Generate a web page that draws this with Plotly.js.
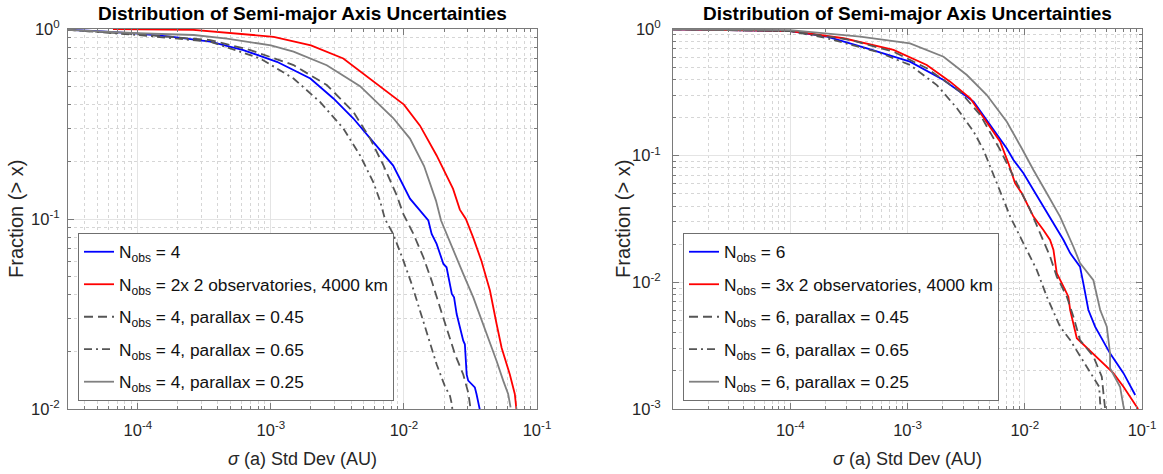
<!DOCTYPE html>
<html><head><meta charset="utf-8">
<script src="https://cdn.plot.ly/plotly-3.0.1.min.js"></script>
<style>html,body{margin:0;padding:0;background:#fff}#chart{width:1163px;height:474px}</style>
</head><body><div id="chart"></div>
<script>
// ---------- shared text ----------
const plotTitle = 'Distribution of Semi-major Axis Uncertainties';
const xTitle = '<i>σ</i> (a) Std Dev (AU)';
const yTitle = 'Fraction (> x)';
const xTickVals = [1e-4, 1e-3, 1e-2, 1e-1];
const xTickText = ['10<sup>-4</sup>', '10<sup>-3</sup>', '10<sup>-2</sup>', '10<sup>-1</sup>'];
const yTickValsL = [1e-2, 1e-1, 1];
const yTickTextL = ['10<sup>-2</sup>', '10<sup>-1</sup>', '10<sup>0</sup>'];
const yTickValsR = [1e-3, 1e-2, 1e-1, 1];
const yTickTextR = ['10<sup>-3</sup>', '10<sup>-2</sup>', '10<sup>-1</sup>', '10<sup>0</sup>'];

// ---------- left panel (N_obs = 4) ----------
const namesL = ['N<sub>obs</sub> = 4', 'N<sub>obs</sub> = 2x 2 observatories, 4000 km',
  'N<sub>obs</sub> = 4, parallax = 0.45', 'N<sub>obs</sub> = 4, parallax = 0.65', 'N<sub>obs</sub> = 4, parallax = 0.25'];

const L_blue_x = [3.0e-5, 5e-5, 1e-4, 1.76e-4, 3.5e-4, 6.2e-4, 1.11e-3, 1.98e-3, 2.95e-3, 4.17e-3, 5.89e-3, 8.3e-3, 0.0111, 0.0140, 0.01525, 0.01615, 0.0176, 0.0198, 0.0209, 0.0229, 0.0238, 0.0249, 0.0256, 0.0279, 0.0287, 0.0296, 0.0304, 0.0341, 0.0351, 0.0373];
const L_blue_y = [0.99, 0.975, 0.945, 0.911, 0.857, 0.775, 0.672, 0.549, 0.431, 0.338, 0.254, 0.191, 0.128, 0.1065, 0.0982, 0.0835, 0.074, 0.058, 0.0557, 0.0403, 0.0387, 0.0316, 0.0291, 0.0229, 0.0219, 0.0152, 0.0141, 0.0130, 0.0120, 0.0098];

const L_red_x = [6.5e-5, 2.6e-4, 1.05e-3, 2.0e-3, 3.5e-3, 6.3e-3, 0.0100, 0.0132, 0.0176, 0.0234, 0.0263, 0.0292, 0.0331, 0.0383, 0.0443, 0.0497, 0.0542, 0.0625, 0.0681, 0.0702];
const L_red_y = [1.0, 0.99, 0.91, 0.82, 0.70, 0.51, 0.40, 0.31, 0.216, 0.144, 0.112, 0.100, 0.080, 0.060, 0.042, 0.028, 0.021, 0.0152, 0.012, 0.0098];

const L_dash_x = [2.95e-5, 1e-4, 3.5e-4, 7.0e-4, 1.48e-3, 2.63e-3, 4.17e-3, 5.57e-3, 7.0e-3, 8.83e-3, 9.9e-3, 0.01178, 0.0140, 0.01614, 0.01866, 0.0215, 0.0242, 0.0279, 0.0304, 0.0317];
const L_dash_y = [0.99, 0.937, 0.875, 0.775, 0.646, 0.507, 0.366, 0.265, 0.192, 0.133, 0.106, 0.0835, 0.0629, 0.0474, 0.0342, 0.0248, 0.0194, 0.0152, 0.0122, 0.0100];

const L_dd_x = [2.95e-5, 1e-4, 3.5e-4, 8.3e-4, 1.48e-3, 2.34e-3, 3.51e-3, 4.68e-3, 5.89e-3, 6.6e-3, 7.2e-3, 8.3e-3, 9.9e-3, 0.01143, 0.0132, 0.01525, 0.0176, 0.0203, 0.0222, 0.0229, 0.0231];
const L_dd_y = [0.99, 0.93, 0.857, 0.70, 0.549, 0.413, 0.299, 0.216, 0.156, 0.125, 0.100, 0.0835, 0.0604, 0.0455, 0.0329, 0.0238, 0.0172, 0.0132, 0.0117, 0.0106, 0.0100];

const L_gray_x = [2.95e-5, 1e-4, 2.63e-4, 4.68e-4, 1e-3, 1.48e-3, 2.63e-3, 4.68e-3, 8.3e-3, 0.0111, 0.01416, 0.0174, 0.0190, 0.0235, 0.0279, 0.0332, 0.0394, 0.0443, 0.0497, 0.0557, 0.0607, 0.0633];
const L_gray_y = [0.99, 0.95, 0.93, 0.89, 0.82, 0.76, 0.645, 0.50, 0.34, 0.265, 0.19, 0.125, 0.0982, 0.0682, 0.0514, 0.0387, 0.028, 0.0219, 0.0179, 0.0141, 0.012, 0.0102];

// ---------- right panel (N_obs = 6) ----------
const namesR = ['N<sub>obs</sub> = 6', 'N<sub>obs</sub> = 3x 2 observatories, 4000 km',
  'N<sub>obs</sub> = 6, parallax = 0.45', 'N<sub>obs</sub> = 6, parallax = 0.65', 'N<sub>obs</sub> = 6, parallax = 0.25'];

const R_blue_x = [1e-5, 3.27e-5, 1e-4, 2.06e-4, 4.51e-4, 1.05e-3, 2.03e-3, 3.66e-3, 5.07e-3, 7.03e-3, 8.02e-3, 9.75e-3, 0.01186, 0.01442, 0.01758, 0.0214, 0.0244, 0.0296, 0.0316, 0.0349, 0.0398, 0.0534, 0.0695, 0.0875];
const R_blue_y = [0.995, 0.985, 0.964, 0.869, 0.704, 0.552, 0.396, 0.267, 0.175, 0.114, 0.0925, 0.0726, 0.0536, 0.0396, 0.0292, 0.0216, 0.017, 0.0133, 0.0098, 0.00605, 0.00447, 0.00275, 0.00192, 0.00129];

const R_red_x = [1e-5, 1e-4, 2.85e-4, 7.6e-4, 1.46e-3, 2.31e-3, 3.43e-3, 4.75e-3, 6.17e-3, 7.26e-3, 8.28e-3, 9.44e-3, 0.01042, 0.01186, 0.01442, 0.01644, 0.01758, 0.01875, 0.0214, 0.02355, 0.0244, 0.0269, 0.0278, 0.0570, 0.0695, 0.0927];
const R_red_y = [0.995, 0.964, 0.845, 0.683, 0.52, 0.384, 0.284, 0.185, 0.129, 0.087, 0.0605, 0.0505, 0.0421, 0.033, 0.0259, 0.0216, 0.018, 0.0118, 0.00925, 0.0077, 0.00605, 0.00421, 0.00362, 0.00192, 0.0015, 0.001];

const R_dash_x = [1e-5, 1e-4, 3.25e-4, 7.6e-4, 1.46e-3, 2.81e-3, 4.17e-3, 5.4e-3, 6.17e-3, 7.52e-3, 9.12e-3, 0.01112, 0.01352, 0.01644, 0.01875, 0.02286, 0.026, 0.0296, 0.0385, 0.0454, 0.0469, 0.0485];
const R_dash_y = [0.995, 0.964, 0.82, 0.662, 0.49, 0.32, 0.21, 0.137, 0.111, 0.077, 0.0536, 0.0373, 0.0244, 0.016, 0.0111, 0.0077, 0.00536, 0.0035, 0.0026, 0.0018, 0.00133, 0.001];

const R_dd_x = [1e-5, 1e-4, 2.06e-4, 5.48e-4, 1.05e-3, 1.78e-3, 2.64e-3, 3.66e-3, 4.45e-3, 5.78e-3, 7.52e-3, 9.75e-3, 0.01268, 0.01542, 0.02, 0.0244, 0.0338, 0.0431, 0.044, 0.045];
const R_dd_y = [0.995, 0.964, 0.845, 0.662, 0.52, 0.361, 0.237, 0.155, 0.111, 0.0605, 0.033, 0.0203, 0.0125, 0.0077, 0.00447, 0.0035, 0.00216, 0.0015, 0.00111, 0.001];

const R_gray_x = [1e-5, 1e-4, 3.95e-4, 1.05e-3, 2.03e-3, 3.21e-3, 4.75e-3, 7.03e-3, 9.44e-3, 0.01186, 0.01542, 0.02, 0.026, 0.0296, 0.0385, 0.044, 0.0501, 0.0534, 0.0534, 0.065, 0.0695, 0.0704];
const R_gray_y = [0.995, 0.98, 0.869, 0.771, 0.604, 0.433, 0.301, 0.185, 0.114, 0.077, 0.0505, 0.033, 0.0191, 0.0142, 0.0104, 0.00605, 0.00447, 0.00275, 0.0021, 0.0015, 0.00105, 0.001];

// ---------- styling ----------
const FONT = 'Liberation Sans, Arial, Helvetica, sans-serif';
const styles = [
  {color: 'rgb(0,0,255)', width: 1.8, dash: 'solid'},
  {color: 'rgb(255,0,0)', width: 1.8, dash: 'solid'},
  {color: 'rgb(85,85,85)', width: 1.8, dash: '9px,5px'},
  {color: 'rgb(85,85,85)', width: 1.8, dash: '8px,4px,2px,4px'},
  {color: 'rgb(128,128,128)', width: 1.8, dash: 'solid'}
];

const leftSeries = [[L_blue_x, L_blue_y], [L_red_x, L_red_y], [L_dash_x, L_dash_y], [L_dd_x, L_dd_y], [L_gray_x, L_gray_y]];
const rightSeries = [[R_blue_x, R_blue_y], [R_red_x, R_red_y], [R_dash_x, R_dash_y], [R_dd_x, R_dd_y], [R_gray_x, R_gray_y]];

const traces = [];
leftSeries.forEach((s, i) => traces.push({
  x: s[0], y: s[1], type: 'scatter', mode: 'lines', name: namesL[i], legendgroup: 'L' + i,
  line: styles[i], xaxis: 'x', yaxis: 'y', legend: 'legend'
}));
rightSeries.forEach((s, i) => traces.push({
  x: s[0], y: s[1], type: 'scatter', mode: 'lines', name: namesR[i], legendgroup: 'R' + i,
  line: styles[i], xaxis: 'x2', yaxis: 'y2', legend: 'legend2'
}));

function minorVals(lo, hi) {
  const v = [];
  for (let p = lo; p < hi; p++) for (let m = 2; m <= 9; m++) v.push(m * Math.pow(10, p));
  return v;
}

function axis(extra) {
  return Object.assign({
    type: 'log', showline: true, linecolor: '#7a7a7a', linewidth: 1, mirror: 'ticks',
    ticks: 'inside', ticklen: 6, tickcolor: '#7a7a7a', tickmode: 'array',
    showgrid: true, gridcolor: '#e4e4e4', gridwidth: 1, zeroline: false,
    automargin: false, tickfont: {family: FONT, size: 16.5, color: '#262626'}
  }, extra);
}
function minor(vals) {
  return {tickmode: 'array', tickvals: vals, ticks: 'inside', ticklen: 3, tickcolor: '#7a7a7a',
    showgrid: true, gridcolor: '#d6d6d6', griddash: 'dot', gridwidth: 1};
}

const yDom = [65 / 474, 445 / 474];
const yMid = (474 - 219) / 474;
const legendBase = {
  bgcolor: '#ffffff', bordercolor: '#6f6f6f', borderwidth: 1,
  font: {family: FONT, size: 17.3, color: '#111'}, xanchor: 'left', yanchor: 'top',
  y: (474 - 233) / 474, tracegroupgap: 7, itemwidth: 30
};
const titleFont = {family: FONT, size: 19, color: '#000'};
const yTitleFont = {family: FONT, size: 20, color: '#262626'};

const layout = {
  width: 1163, height: 474, autosize: false,
  margin: {l: 0, r: 0, t: 0, b: 0},
  paper_bgcolor: '#ffffff', plot_bgcolor: '#ffffff',
  font: {family: FONT, color: '#262626'},
  showlegend: true,
  xaxis: axis({domain: [68 / 1163, 537 / 1163], range: [-4.525, -1], anchor: 'y',
    tickvals: xTickVals, ticktext: xTickText, minor: minor(minorVals(-5, -1)), ticklabelstandoff: 6,
    title: {text: xTitle, standoff: 14, font: {family: FONT, size: 18, color: '#262626'}}}),
  yaxis: axis({domain: yDom, range: [-2, 0], anchor: 'x',
    tickvals: yTickValsL, ticktext: yTickTextL, minor: minor(minorVals(-2, 0)), ticklabelstandoff: 4}),
  xaxis2: axis({domain: [673 / 1163, 1142 / 1163], range: [-5, -1], anchor: 'y2',
    tickvals: xTickVals, ticktext: xTickText, minor: minor(minorVals(-5, -1)), ticklabelstandoff: 6,
    title: {text: xTitle, standoff: 14, font: {family: FONT, size: 18, color: '#262626'}}}),
  yaxis2: axis({domain: yDom, range: [-3, 0], anchor: 'x2',
    tickvals: yTickValsR, ticktext: yTickTextR, minor: minor(minorVals(-3, 0)), ticklabelstandoff: 8}),
  legend: Object.assign({}, legendBase, {x: 78 / 1163}),
  legend2: Object.assign({}, legendBase, {x: 683 / 1163}),
  annotations: [
    {text: '<b>' + plotTitle + '</b>', xref: 'paper', yref: 'paper', x: 302.5 / 1163, y: (474 - 13) / 474,
     xanchor: 'center', yanchor: 'middle', showarrow: false, font: titleFont},
    {text: '<b>' + plotTitle + '</b>', xref: 'paper', yref: 'paper', x: 907.5 / 1163, y: (474 - 13) / 474,
     xanchor: 'center', yanchor: 'middle', showarrow: false, font: titleFont},
    {text: yTitle, xref: 'paper', yref: 'paper', x: 16 / 1163, y: yMid, textangle: -90,
     xanchor: 'center', yanchor: 'middle', showarrow: false, font: yTitleFont},
    {text: yTitle, xref: 'paper', yref: 'paper', x: 623 / 1163, y: yMid, textangle: -90,
     xanchor: 'center', yanchor: 'middle', showarrow: false, font: yTitleFont}
  ]
};

Plotly.newPlot('chart', traces, layout, {staticPlot: true, displayModeBar: false});
</script></body></html>
